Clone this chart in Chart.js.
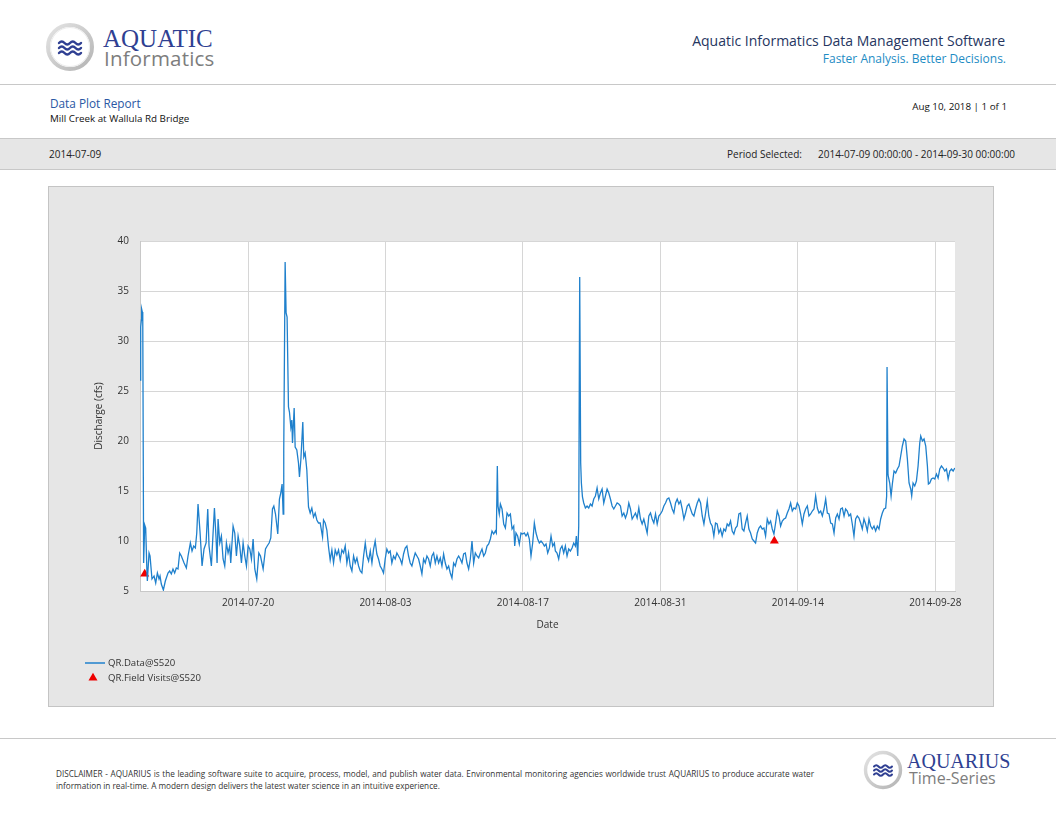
<!DOCTYPE html>
<html>
<head>
<meta charset="utf-8">
<title>Data Plot Report - Mill Creek at Wallula Rd Bridge</title>
<script src="https://cdn.jsdelivr.net/npm/chart.js@4.4.1/dist/chart.umd.min.js"></script>
<style>
	html, body { margin: 0; padding: 0; background: #fff; }
	body { width: 1056px; height: 816px; position: relative; overflow: hidden; font-family: 'Open Sans', sans-serif; color: #222; }
	.abs { position: absolute; line-height: 1; white-space: nowrap; }
	.rule { position: absolute; left: 0; width: 1056px; height: 0; border-top: 1px solid #c8c8c8; }
	.brand-top { left: 103px; top: 26px; font-family: 'Liberation Serif', serif; font-size: 25px; color: #2f3f92; }
	.brand-bottom { left: 104px; top: 48px; font-size: 20.5px; color: #7d7d7d; letter-spacing: 0.2px; }
	.tagline { right: 51px; top: 34px; font-size: 14px; color: #26365f; }
	.slogan { right: 50px; top: 53px; font-size: 12px; color: #1e8cc4; }
	.report { left: 50px; top: 98px; font-size: 11.8px; color: #2a58a4; }
	.site { left: 50px; top: 114px; font-size: 9.8px; color: #111; }
	.pages { right: 49px; top: 102px; font-size: 9.8px; color: #111; }
	.band { position: absolute; left: 0; top: 138px; width: 1056px; height: 30px; background: #e6e6e6; border-top: 1px solid #c8c8c8; border-bottom: 1px solid #c8c8c8; }
	.band .abs { top: 10px; font-size: 10px; color: #222; }
	.chart-box { position: absolute; left: 48px; top: 186px; width: 946px; height: 521px; box-sizing: border-box; border: 1px solid #c4c4c4; background: #e6e6e6; }
	.chart-wrap { position: relative; width: 944px; height: 519px; }
	.disclaimer { left: 56px; font-size: 8.2px; color: #333; }
	.foot-top { left: 907px; top: 751px; font-family: 'Liberation Serif', serif; font-size: 20px; color: #2f3f92; }
	.foot-bottom { left: 909px; top: 770px; font-size: 16px; color: #7d7d7d; }
</style>
</head>
<body>

<!-- header -->
<svg class="abs" style="left:45px;top:22px" width="50" height="50" viewBox="-25 -25 50 50">
	<defs>
		<linearGradient id="ringA" x1="0" y1="0" x2="1" y2="1">
			<stop offset="0" stop-color="#e4e4e4"/>
			<stop offset="1" stop-color="#b4b4b4"/>
		</linearGradient>
	</defs>
	<circle r="22" fill="#fff" stroke="url(#ringA)" stroke-width="4"/>
	<circle r="19.5" fill="none" stroke="#ececec" stroke-width="1"/>
	<g fill="none" stroke="#2f3f92" stroke-width="2.4" stroke-linecap="round">
		<path d="M-11,-4 q2.75,-3 5.5,0 t5.5,0 t5.5,0 t5.5,0"/>
		<path d="M-11,1 q2.75,-3 5.5,0 t5.5,0 t5.5,0 t5.5,0"/>
		<path d="M-11,6 q2.75,-3 5.5,0 t5.5,0 t5.5,0 t5.5,0"/>
	</g>
</svg>
<div class="abs brand-top">AQUATIC</div>
<div class="abs brand-bottom">Informatics</div>

<div class="abs tagline">Aquatic Informatics Data Management Software</div>
<div class="abs slogan">Faster Analysis. Better Decisions.</div>

<div class="rule" style="top:84px"></div>

<div class="abs report">Data Plot Report</div>
<div class="abs site">Mill Creek at Wallula Rd Bridge</div>
<div class="abs pages">Aug 10, 2018 | 1 of 1</div>

<div class="band">
	<div class="abs" style="left:49px">2014-07-09</div>
	<div class="abs" style="left:727px">Period Selected:</div>
	<div class="abs" style="left:818px">2014-07-09 00:00:00 - 2014-09-30 00:00:00</div>
</div>

<!-- chart -->
<div class="chart-box">
	<div class="chart-wrap"><canvas id="dischargeChart"></canvas></div>
</div>

<!-- footer -->
<div class="rule" style="top:738px"></div>
<div class="abs disclaimer" style="top:770px;width:758px;text-align:justify;text-align-last:justify">DISCLAIMER - AQUARIUS is the leading software suite to acquire, process, model, and publish water data. Environmental monitoring agencies worldwide trust AQUARIUS to produce accurate water</div>
<div class="abs disclaimer" style="top:782px">information in real-time. A modern design delivers the latest water science in an intuitive experience.</div>

<svg class="abs" style="left:863px;top:750px" width="40" height="40" viewBox="-20 -20 40 40">
	<defs>
		<linearGradient id="ringB" x1="0" y1="0" x2="1" y2="1">
			<stop offset="0" stop-color="#e4e4e4"/>
			<stop offset="1" stop-color="#b4b4b4"/>
		</linearGradient>
	</defs>
	<circle r="17.5" fill="#fff" stroke="url(#ringB)" stroke-width="3.4"/>
	<g fill="none" stroke="#2f3f92" stroke-width="2" stroke-linecap="round">
		<path d="M-9,-3.5 q2.25,-2.5 4.5,0 t4.5,0 t4.5,0 t4.5,0"/>
		<path d="M-9,0.5 q2.25,-2.5 4.5,0 t4.5,0 t4.5,0 t4.5,0"/>
		<path d="M-9,4.5 q2.25,-2.5 4.5,0 t4.5,0 t4.5,0 t4.5,0"/>
	</g>
</svg>
<div class="abs foot-top">AQUARIUS</div>
<div class="abs foot-bottom">Time-Series</div>

<script>
//discharge series, days since 2014-07-09 00:00 and cfs

const dayOffset = [
	0.00, 0.07, 0.14, 0.17, 0.24, 0.28, 0.37, 0.48, 0.58, 0.71, 0.75, 0.92, 1.02, 1.22, 1.43, 1.60, 1.77, 1.94, 2.04, 2.17,
	2.38, 2.58, 2.85, 3.02, 3.19, 3.36, 3.53, 3.70, 3.87, 4.04, 4.21, 4.49, 4.72, 4.89, 5.13, 5.30, 5.47, 5.64, 5.78, 5.91,
	6.12, 6.32, 6.52, 6.73, 6.90, 7.03, 7.27, 7.41, 7.58, 7.75, 7.85, 7.95, 8.12, 8.29, 8.46, 8.63, 8.80, 8.97, 9.14, 9.24,
	9.48, 9.65, 9.82, 9.99, 10.16, 10.33, 10.50, 10.67, 10.84, 11.01, 11.18, 11.35, 11.52, 11.69, 11.89, 12.10, 12.27, 12.54, 12.78, 12.95,
	13.15, 13.32, 13.49, 13.63, 13.80, 14.03, 14.20, 14.34, 14.47, 14.58, 14.64, 14.78, 14.88, 14.98, 15.12, 15.22, 15.36, 15.46, 15.53, 15.70,
	15.80, 15.97, 16.14, 16.24, 16.38, 16.58, 16.68, 16.82, 16.99, 17.16, 17.33, 17.50, 17.67, 17.84, 18.01, 18.18, 18.35, 18.59, 18.69, 18.86,
	19.03, 19.20, 19.37, 19.54, 19.71, 19.88, 20.05, 20.22, 20.39, 20.56, 20.73, 20.90, 21.07, 21.24, 21.41, 21.58, 21.75, 21.92, 22.09, 22.26,
	22.43, 22.60, 22.77, 22.94, 23.11, 23.28, 23.45, 23.62, 23.79, 23.95, 24.12, 24.29, 24.46, 24.63, 24.80, 24.97, 25.14, 25.31, 25.48, 25.65,
	25.82, 25.99, 26.16, 26.33, 26.50, 26.67, 26.84, 27.01, 27.18, 27.35, 27.52, 27.69, 27.86, 28.03, 28.20, 28.37, 28.54, 28.71, 28.88, 29.05,
	29.22, 29.39, 29.56, 29.73, 29.90, 30.07, 30.24, 30.41, 30.58, 30.75, 30.92, 31.09, 31.26, 31.43, 31.60, 31.77, 31.94, 32.11, 32.28, 32.45,
	32.62, 32.79, 32.96, 33.13, 33.30, 33.47, 33.64, 33.81, 33.98, 34.15, 34.32, 34.49, 34.66, 34.83, 35.00, 35.17, 35.34, 35.51, 35.68, 35.85,
	36.02, 36.19, 36.29, 36.39, 36.46, 36.59, 36.70, 36.87, 37.04, 37.21, 37.38, 37.55, 37.72, 37.89, 38.06, 38.16, 38.29, 38.46, 38.63, 38.80,
	38.97, 39.14, 39.31, 39.48, 39.65, 39.82, 39.99, 40.16, 40.33, 40.50, 40.67, 40.84, 41.01, 41.18, 41.35, 41.52, 41.69, 41.86, 42.03, 42.20,
	42.30, 42.47, 42.64, 42.81, 42.98, 43.15, 43.32, 43.49, 43.66, 43.83, 44.00, 44.17, 44.34, 44.44, 44.58, 44.68, 44.78, 44.88, 44.95, 45.06,
	45.19, 45.36, 45.53, 45.70, 45.87, 46.04, 46.21, 46.38, 46.55, 46.72, 46.89, 47.06, 47.23, 47.40, 47.57, 47.74, 47.91, 48.08, 48.25, 48.42,
	48.59, 48.76, 48.93, 49.10, 49.27, 49.44, 49.61, 49.78, 49.95, 50.12, 50.29, 50.46, 50.63, 50.80, 50.97, 51.14, 51.31, 51.48, 51.65, 51.82,
	51.99, 52.16, 52.33, 52.50, 52.67, 52.84, 53.01, 53.18, 53.35, 53.52, 53.69, 53.86, 54.03, 54.20, 54.37, 54.54, 54.71, 54.88, 55.05, 55.22,
	55.39, 55.56, 55.73, 55.90, 56.07, 56.24, 56.41, 56.58, 56.75, 56.92, 57.09, 57.26, 57.43, 57.60, 57.77, 57.93, 58.10, 58.27, 58.44, 58.61,
	58.78, 58.95, 59.12, 59.29, 59.46, 59.63, 59.80, 59.97, 60.14, 60.31, 60.48, 60.65, 60.82, 60.99, 61.16, 61.33, 61.50, 61.67, 61.84, 62.01,
	62.18, 62.35, 62.52, 62.69, 62.86, 63.03, 63.20, 63.37, 63.54, 63.71, 63.88, 64.05, 64.22, 64.39, 64.56, 64.73, 64.90, 65.07, 65.24, 65.41,
	65.58, 65.75, 65.92, 66.09, 66.26, 66.43, 66.60, 66.77, 66.94, 67.11, 67.28, 67.45, 67.62, 67.79, 67.96, 68.13, 68.30, 68.47, 68.64, 68.81,
	68.98, 69.15, 69.32, 69.49, 69.66, 69.83, 70.00, 70.17, 70.34, 70.51, 70.68, 70.85, 71.02, 71.19, 71.36, 71.53, 71.70, 71.86, 72.03, 72.20,
	72.37, 72.54, 72.71, 72.88, 73.05, 73.22, 73.39, 73.56, 73.73, 73.90, 74.07, 74.24, 74.41, 74.58, 74.75, 74.92, 75.09, 75.26, 75.43, 75.60,
	75.77, 75.94, 76.04, 76.08, 76.18, 76.35, 76.49, 76.62, 76.79, 76.96, 77.13, 77.30, 77.47, 77.64, 77.81, 77.98, 78.15, 78.32, 78.49, 78.59,
	78.73, 78.90, 79.07, 79.24, 79.41, 79.51, 79.68, 79.85, 80.02, 80.19, 80.29, 80.43, 80.60, 80.77, 80.94, 81.11, 81.28, 81.45, 81.62, 81.79,
	81.96, 82.13, 82.30, 82.47, 82.64, 82.81, 82.98
];

const discharge = [
	26.1, 31.4, 32.1, 33.2, 32.9, 32.6, 7.8, 11.6, 11.3, 6.8, 6.0, 8.8, 8.5, 6.2, 6.5, 5.8, 6.8, 6.2, 6.5, 5.7,
	5.1, 6.0, 6.8, 7.0, 6.7, 7.2, 6.8, 7.3, 7.2, 8.8, 8.5, 7.8, 7.3, 8.5, 9.8, 9.0, 9.5, 9.3, 10.8, 13.7,
	10.8, 7.5, 9.2, 9.8, 13.2, 9.5, 7.5, 10.2, 13.3, 10.2, 7.8, 12.2, 9.8, 10.5, 8.2, 7.5, 9.8, 8.8, 9.5, 7.8,
	11.5, 10.8, 8.5, 10.5, 9.5, 7.8, 9.8, 8.5, 7.5, 9.5, 9.2, 8.2, 10.2, 7.2, 6.2, 8.8, 8.5, 7.2, 9.2, 9.5,
	9.8, 10.3, 13.2, 13.5, 12.7, 10.7, 14.2, 14.8, 15.7, 12.7, 19.2, 37.9, 32.8, 32.4, 23.4, 22.9, 21.4, 22.1, 19.8, 23.3,
	19.4, 19.1, 17.8, 16.4, 18.1, 21.9, 18.4, 18.8, 17.1, 13.4, 12.8, 13.3, 12.4, 12.8, 12.1, 11.8, 11.8, 10.4, 12.1, 11.8,
	11.1, 9.4, 8.1, 9.1, 7.8, 9.1, 8.6, 9.1, 8.1, 9.1, 8.8, 9.5, 7.8, 8.8, 7.5, 7.0, 8.5, 7.8, 8.3, 7.5,
	7.0, 6.8, 8.5, 9.8, 8.5, 8.0, 9.0, 7.8, 9.2, 10.0, 8.7, 8.2, 7.5, 7.2, 6.8, 8.2, 9.2, 8.8, 9.0, 7.8,
	8.5, 8.2, 8.8, 8.5, 8.2, 7.7, 8.7, 9.3, 9.5, 8.5, 7.8, 7.5, 8.2, 8.8, 8.5, 8.2, 7.5, 6.7, 8.2, 7.8,
	8.5, 8.2, 7.5, 8.5, 8.8, 7.8, 8.5, 7.8, 8.3, 7.5, 8.7, 7.8, 7.2, 7.5, 6.8, 6.3, 7.8, 7.5, 8.2, 8.5,
	8.2, 7.8, 8.7, 8.8, 7.8, 7.2, 8.2, 10.0, 7.8, 8.8, 8.5, 8.3, 8.8, 9.2, 8.5, 8.8, 9.5, 9.7, 10.2, 11.0,
	10.7, 11.0, 10.8, 17.5, 13.5, 12.7, 13.7, 13.2, 11.7, 11.3, 12.8, 12.5, 12.7, 11.2, 11.5, 9.5, 10.8, 10.5, 9.7, 10.8,
	10.7, 10.8, 10.5, 10.8, 10.2, 8.5, 9.8, 11.8, 10.8, 10.2, 9.8, 10.0, 9.8, 9.5, 9.7, 8.8, 9.3, 10.5, 9.5, 9.8,
	9.0, 8.8, 8.2, 9.2, 9.5, 8.8, 9.5, 8.5, 9.2, 9.0, 9.3, 9.8, 9.5, 10.5, 8.5, 11.5, 36.4, 17.8, 15.8, 14.4,
	13.8, 13.3, 13.5, 13.3, 13.7, 13.5, 14.2, 14.5, 15.3, 14.2, 14.8, 15.2, 13.8, 14.5, 15.2, 14.8, 14.2, 13.5, 13.2, 13.5,
	13.8, 13.7, 13.5, 12.5, 12.8, 12.3, 12.8, 13.8, 13.2, 12.2, 12.5, 12.8, 12.3, 13.3, 12.2, 11.7, 12.2, 11.5, 10.8, 12.5,
	12.8, 12.2, 11.8, 12.7, 11.7, 12.5, 12.7, 13.0, 13.5, 13.8, 14.2, 14.3, 13.8, 13.2, 12.8, 13.8, 14.2, 13.7, 14.0, 13.2,
	12.2, 12.8, 13.5, 13.7, 13.2, 12.7, 12.5, 13.2, 13.8, 14.2, 13.8, 12.5, 11.7, 12.8, 14.0, 12.5, 11.8, 11.5, 10.5, 11.8,
	11.7, 10.8, 11.2, 10.5, 11.2, 11.0, 11.7, 11.5, 12.0, 11.0, 10.7, 11.3, 11.5, 12.7, 12.8, 11.2, 11.0, 11.8, 12.5, 11.2,
	10.8, 10.2, 10.0, 9.8, 10.8, 11.3, 11.5, 11.2, 11.3, 10.5, 12.2, 11.7, 12.0, 11.2, 10.7, 11.8, 13.0, 12.5, 11.5, 12.0,
	12.2, 12.3, 12.8, 13.2, 13.8, 13.0, 13.3, 13.2, 13.8, 13.5, 12.7, 11.7, 12.7, 13.2, 13.5, 12.5, 12.7, 13.0, 13.2, 14.5,
	13.3, 12.8, 13.0, 12.5, 13.2, 14.2, 12.8, 12.7, 11.8, 11.7, 10.8, 12.3, 12.7, 12.2, 13.2, 13.3, 12.5, 13.2, 13.0, 12.5,
	12.7, 11.7, 10.5, 12.2, 12.5, 12.3, 11.8, 11.2, 12.2, 11.7, 11.0, 12.2, 11.5, 11.2, 11.5, 11.0, 11.5, 11.2, 12.2, 12.8,
	13.2, 13.3, 14.5, 27.4, 16.6, 15.8, 14.5, 15.7, 17.0, 16.8, 17.2, 17.5, 18.5, 19.5, 20.2, 20.0, 18.2, 15.8, 15.2, 14.5,
	15.8, 15.5, 16.0, 17.5, 19.8, 20.5, 20.0, 20.2, 19.5, 17.5, 15.7, 15.8, 16.2, 16.3, 16.2, 16.7, 16.3, 17.2, 17.5, 17.3,
	17.0, 17.2, 16.2, 17.0, 17.2, 17.0, 17.3
];

//field visits

const visitDay = [0.48, 64.6];
const visitDischarge = [6.7, 10.0];

//axes

const periodDays = 83; // 2014-07-09 to 2014-09-30
const xTickDays = [11, 25, 39, 53, 67, 81];
const xTickLabels = ['2014-07-20', '2014-08-03', '2014-08-17', '2014-08-31', '2014-09-14', '2014-09-28'];
const yTicks = [5, 10, 15, 20, 25, 30, 35, 40];

const seriesLabels = ['QR.Data@S520', 'QR.Field Visits@S520'];
const lineColor = '#1f80cc';
const visitColor = '#ee0000';
const gridColor = '#d6d6d6';
const textColor = '#333';
const chartFont = "'Open Sans', sans-serif";

//white plot area on grey box

const plotBackground = {
	id: 'plotBackground',
	beforeDraw(chart) {
		const {ctx, chartArea} = chart;
		ctx.save();
		ctx.fillStyle = '#fff';
		ctx.fillRect(chartArea.left, chartArea.top, chartArea.right - chartArea.left, chartArea.bottom - chartArea.top);
		ctx.restore();
	}
};

//stacked legend under the x axis title

const stackedLegend = {
	id: 'stackedLegend',
	afterDraw(chart) {
		const {ctx, chartArea} = chart;
		const x0 = chartArea.left - 55;
		let y = chart.scales.x.bottom + 28;
		ctx.save();
		ctx.font = '9.6px ' + chartFont;
		ctx.textBaseline = 'middle';
		chart.data.datasets.forEach((ds) => {
			if (ds.showLine === false) {
				ctx.fillStyle = ds.pointBackgroundColor;
				if (Chart.helpers && Chart.helpers.drawPoint) {
					Chart.helpers.drawPoint(ctx, {pointStyle: ds.pointStyle, radius: ds.pointRadius, rotation: 0, borderWidth: 0}, x0 + 8, y);
				}
			} else {
				ctx.strokeStyle = ds.borderColor;
				ctx.lineWidth = 1.5;
				ctx.beginPath();
				ctx.moveTo(x0, y);
				ctx.lineTo(x0 + 20, y);
				ctx.stroke();
			}
			ctx.fillStyle = textColor;
			ctx.fillText(ds.label, x0 + 23, y);
			y += 15;
		});
		ctx.restore();
	}
};

const ctx = document.getElementById('dischargeChart').getContext('2d');

const chart = new Chart(ctx, {
	type: 'line',
	data: {
		datasets: [{
			label: seriesLabels[0],
			data: dayOffset.map((d, i) => ({x: d, y: discharge[i]})),
			borderColor: lineColor,
			borderWidth: 1.3,
			pointRadius: 0,
			tension: 0,
			fill: false
		}, {
			label: seriesLabels[1],
			data: visitDay.map((d, i) => ({x: d, y: visitDischarge[i]})),
			showLine: false,
			pointStyle: 'triangle',
			pointRadius: 5.2,
			pointBorderWidth: 0,
			pointBackgroundColor: visitColor,
			pointBorderColor: visitColor
		}]
	},
	options: {
		responsive: true,
		maintainAspectRatio: false,
		animation: false,
		layout: {
			padding: {left: 40, top: 54, right: 38, bottom: 71}
		},
		plugins: {
			legend: {display: false},
			tooltip: {enabled: false}
		},
		scales: {
			x: {
				type: 'linear',
				min: 0,
				max: periodDays,
				afterBuildTicks: (axis) => {
					axis.ticks = xTickDays.map(v => ({value: v}));
				},
				afterFit: (axis) => {
					axis.height = 44;
					axis.paddingLeft = 0;
					axis.paddingRight = 0;
				},
				grid: {color: gridColor, drawTicks: false},
				border: {color: '#c8c8c8'},
				ticks: {
					padding: 6,
					color: textColor,
					font: {family: chartFont, size: 10},
					maxRotation: 0,
					callback: (value, index) => xTickLabels[index]
				},
				title: {
					display: true,
					text: 'Date',
					color: textColor,
					font: {family: chartFont, size: 10},
					padding: {top: 4, bottom: 4}
				}
			},
			y: {
				type: 'linear',
				min: yTicks[0],
				max: yTicks[yTicks.length - 1],
				afterBuildTicks: (axis) => {
					axis.ticks = yTicks.map(v => ({value: v}));
				},
				afterFit: (axis) => {
					axis.width = 51;
					axis.paddingTop = 0;
					axis.paddingBottom = 0;
				},
				grid: {color: gridColor, drawTicks: false},
				border: {color: '#c8c8c8'},
				ticks: {
					padding: 11,
					color: textColor,
					font: {family: chartFont, size: 10}
				},
				title: {
					display: true,
					text: 'Discharge (cfs)',
					color: textColor,
					font: {family: chartFont, size: 10},
					padding: {top: 4, bottom: 4}
				}
			}
		}
	},
	plugins: [plotBackground, stackedLegend]
});
</script>
</body>
</html>
